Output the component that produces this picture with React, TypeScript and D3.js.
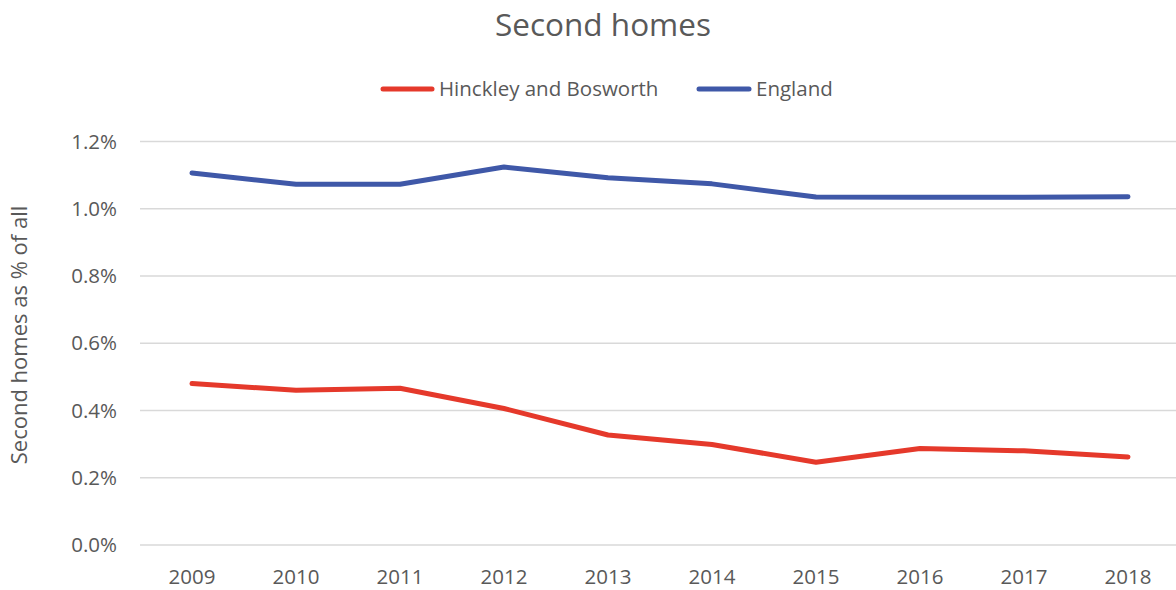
import React from "react";
import * as d3 from "d3";

const years = ["2009","2010","2011","2012","2013","2014","2015","2016","2017","2018"];
const hinckley = [0.480, 0.460, 0.466, 0.406, 0.327, 0.299, 0.246, 0.287, 0.280, 0.262];
const england = [1.106, 1.073, 1.073, 1.124, 1.092, 1.074, 1.035, 1.034, 1.034, 1.036];
const yTicks = [0, 0.2, 0.4, 0.6, 0.8, 1.0, 1.2];
const seriesNames = ["Hinckley and Bosworth", "England"];
const seriesColors = ["#E5392B", "#3F58A8"];

const W = 1176, H = 590;
const FONT = "'Open Sans', 'Noto Sans', sans-serif";
const TEXT = "#595959";

export default function App() {
  const x = d3.scalePoint<string>().domain(years).range([192, 1128]);
  const y = d3.scaleLinear().domain([0, 1.2]).range([545, 141.5]);
  const line = d3.line<number>().x((_, i) => x(years[i]) as number).y(d => y(d));
  const data = [hinckley, england];

  return (
    <svg width={W} height={H} style={{ position: "absolute", left: 0, top: 0, background: "#fff" }}>
      <rect width={W} height={H} fill="#fff" />
      <text x={603} y={36} textAnchor="middle" fontFamily={FONT} fontSize={31.5} fill={TEXT}>Second homes</text>
      {/* legend */}
      <g>
        <line x1={383} x2={432} y1={89} y2={89} stroke={seriesColors[0]} strokeWidth={5} strokeLinecap="round" />
        <text x={439} y={96} fontFamily={FONT} fontSize={20.5} fill={TEXT}>{seriesNames[0]}</text>
        <line x1={699} x2={749} y1={89} y2={89} stroke={seriesColors[1]} strokeWidth={5} strokeLinecap="round" />
        <text x={756} y={96} fontFamily={FONT} fontSize={20.5} fill={TEXT}>{seriesNames[1]}</text>
      </g>
      {/* grid + y ticks */}
      {yTicks.map(t => (
        <g key={t}>
          <line x1={140} x2={1180} y1={y(t)} y2={y(t)} stroke="#D9D9D9" strokeWidth={1.5} />
          <text x={117} y={y(t) + 7} textAnchor="end" fontFamily={FONT} fontSize={20.5} fill={TEXT}>
            {d3.format(".1%")(t / 100)}
          </text>
        </g>
      ))}
      {/* x labels */}
      {years.map(yr => (
        <text key={yr} x={x(yr)} y={584} textAnchor="middle" fontFamily={FONT} fontSize={20.5} fill={TEXT}>{yr}</text>
      ))}
      {/* y axis title */}
      <text transform={`translate(27,335) rotate(-90)`} textAnchor="middle" fontFamily={FONT} fontSize={22} fill={TEXT}>
        Second homes as % of all
      </text>
      {/* lines */}
      {data.map((d, i) => (
        <path key={i} d={line(d) as string} fill="none" stroke={seriesColors[i]} strokeWidth={5} strokeLinecap="round" strokeLinejoin="round" />
      ))}
    </svg>
  );
}
